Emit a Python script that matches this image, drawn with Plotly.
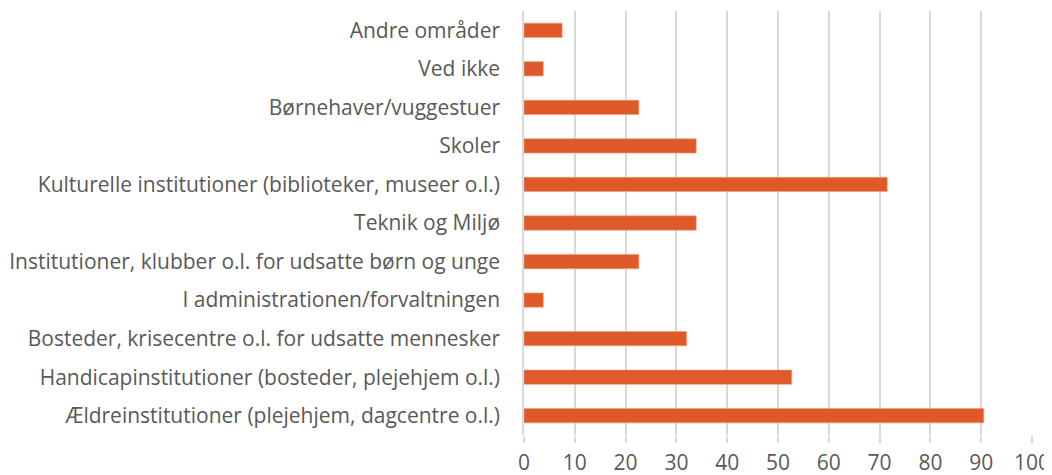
import plotly.graph_objects as go

categories = [
    "Ældreinstitutioner (plejehjem, dagcentre o.l.)",
    "Handicapinstitutioner (bosteder, plejehjem o.l.)",
    "Bosteder, krisecentre o.l. for udsatte mennesker",
    "I administrationen/forvaltningen",
    "Institutioner, klubber o.l. for udsatte børn og unge",
    "Teknik og Miljø",
    "Kulturelle institutioner (biblioteker, museer o.l.)",
    "Skoler",
    "Børnehaver/vuggestuer",
    "Ved ikke",
    "Andre områder",
]
values = [90.5, 52.7, 32.0, 3.8, 22.6, 33.9, 71.5, 33.9, 22.6, 3.8, 7.5]
x_ticks = [0, 10, 20, 30, 40, 50, 60, 70, 80, 90, 100]

fig = go.Figure(
    go.Bar(
        y=categories,
        x=values,
        orientation="h",
        width=0.37,
        marker=dict(color="#DF5A2A", line=dict(color="#EE9A78", width=0.6)),
    )
)

# the page body adds an 8px offset; margins compensate for it
fig.update_layout(
    width=1052,
    height=475,
    margin=dict(l=516, r=28, t=3, b=48, autoexpand=False),
    paper_bgcolor="white",
    plot_bgcolor="white",
    showlegend=False,
    font=dict(family="Open Sans", size=21, color="#595959"),
)
fig.update_xaxes(
    range=[0, 100],
    tickvals=x_ticks,
    ticktext=[str(t) for t in x_ticks],
    showgrid=True,
    gridcolor="#D9D9D9",
    gridwidth=1.5,
    zeroline=False,
    showline=False,
    ticks="outside",
    ticklen=7,
    tickcolor="#D9D9D9",
    tickwidth=1.5,
    ticklabelstandoff=2,
    tickfont=dict(size=21, color="#595959"),
    automargin=False,
    fixedrange=True,
)
fig.update_yaxes(
    categoryorder="array",
    categoryarray=categories,
    showline=True,
    linecolor="#D9D9D9",
    linewidth=1.5,
    ticks="",
    ticklabelstandoff=18,
    tickfont=dict(size=21, color="#595959"),
    automargin=False,
    fixedrange=True,
)

fig.write_html("out.html")
